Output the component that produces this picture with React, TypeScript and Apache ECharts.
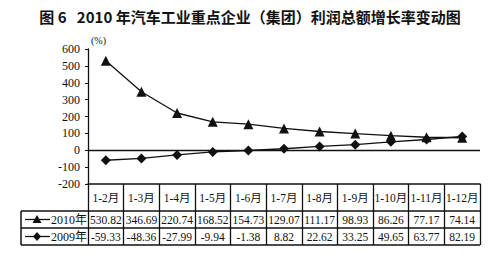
import React, { useEffect, useRef } from "react";
import * as echarts from "echarts";

const categories = ["1-2月", "1-3月", "1-4月", "1-5月", "1-6月", "1-7月", "1-8月", "1-9月", "1-10月", "1-11月", "1-12月"];
const growth2010 = [530.82, 346.69, 220.74, 168.52, 154.73, 129.07, 111.17, 98.93, 86.26, 77.17, 74.14];
const growth2009 = [-59.33, -48.36, -27.99, -9.94, -1.38, 8.82, 22.62, 33.25, 49.65, 63.77, 82.19];
const seriesNames = ["2010年", "2009年"];
const yTicks = { min: -200, max: 600, interval: 100 };
const titleText = "图 6   2010 年汽车工业重点企业（集团）利润总额增长率变动图";
const unitText = "(%)";

const SERIF = "'Liberation Serif', 'Noto Sans CJK SC', serif";
const INK = "#111";

export default function App() {
  const ref = useRef<HTMLDivElement>(null);
  useEffect(() => {
    if (!ref.current) return;
    const chart = echarts.init(ref.current, null, { renderer: "svg" });
    const L = 88, R = 480, T = 49, B = 184;
    const rowH = [27, 17, 17];
    const y1 = B + rowH[0], y2 = y1 + rowH[1], y3 = y2 + rowH[2];
    const tableLeft = 21;
    const fmt = (v: number) => v.toFixed(2);
    const legendCell = (cy: number, kind: "tri" | "dia", label: string) => {
      const sx = 37;
      const pts = kind === "tri"
        ? [[sx, cy - 4.5], [sx + 4.5, cy + 3.5], [sx - 4.5, cy + 3.5]]
        : [[sx, cy - 4.5], [sx + 4, cy], [sx, cy + 4.5], [sx - 4, cy]];
      return [
        { type: "line", shape: { x1: 25, y1: cy, x2: 50, y2: cy }, style: { stroke: INK, lineWidth: 1.3 } },
        { type: "polygon", shape: { points: pts }, style: { fill: INK } },
        { type: "text", x: 51, y: cy, style: { text: label, font: `12px ${SERIF}`, fill: INK, textVerticalAlign: "middle" } },
      ];
    };
    chart.setOption({
      animation: false,
      backgroundColor: "#fff",
      title: {
        text: titleText,
        left: "center",
        top: 4,
        textStyle: { fontSize: 15, fontWeight: "bold", color: INK, fontFamily: "'Noto Sans CJK SC', sans-serif" },
      },
      grid: { left: L, right: 500 - R, top: T, bottom: 261 - B },
      xAxis: [
        {
          type: "category",
          data: categories,
          position: "bottom",
          boundaryGap: true,
          axisLine: { show: true, onZero: false, lineStyle: { color: INK, width: 1.5 } },
          axisTick: { show: true, length: y3 - B, lineStyle: { color: INK, width: 1.3 } },
          axisLabel: { interval: 0, margin: 8, fontSize: 11.5, color: INK, fontFamily: SERIF },
        },
        {
          type: "category",
          data: categories,
          position: "bottom",
          offset: rowH[0],
          axisLine: { show: false },
          axisTick: { show: false },
          axisLabel: { interval: 0, margin: 3, fontSize: 11.5, color: INK, fontFamily: SERIF, formatter: (_v: string, i: number) => fmt(growth2010[i]) },
        },
        {
          type: "category",
          data: categories,
          position: "bottom",
          offset: rowH[0] + rowH[1],
          axisLine: { show: false },
          axisTick: { show: false },
          axisLabel: { interval: 0, margin: 3, fontSize: 11.5, color: INK, fontFamily: SERIF, formatter: (_v: string, i: number) => fmt(growth2009[i]) },
        },
      ],
      yAxis: {
        type: "value",
        min: yTicks.min,
        max: yTicks.max,
        interval: yTicks.interval,
        axisLine: { show: true, lineStyle: { color: INK, width: 1.3 } },
        axisTick: { show: true, length: 3, lineStyle: { color: INK } },
        splitLine: { show: false },
        axisLabel: { margin: 8, fontSize: 12, color: INK, fontFamily: SERIF },
      },
      series: [
        {
          name: seriesNames[0],
          type: "line",
          data: growth2010,
          symbol: "triangle",
          symbolSize: 10,
          lineStyle: { color: INK, width: 1.3 },
          itemStyle: { color: INK },
          markLine: {
            silent: true,
            symbol: "none",
            label: { show: false },
            lineStyle: { color: INK, width: 1.3, type: "solid" },
            data: [{ yAxis: 0 }],
          },
        },
        {
          name: seriesNames[1],
          type: "line",
          data: growth2009,
          symbol: "diamond",
          symbolSize: 10,
          lineStyle: { color: INK, width: 1.3 },
          itemStyle: { color: INK },
        },
      ],
      graphic: [
        { type: "text", x: 91, y: 35, style: { text: unitText, font: `10px ${SERIF}`, fill: INK } },
        { type: "line", shape: { x1: tableLeft, y1: y1, x2: R, y2: y1 }, style: { stroke: INK, lineWidth: 1.5 } },
        { type: "line", shape: { x1: tableLeft, y1: y2, x2: R, y2: y2 }, style: { stroke: INK, lineWidth: 1.5 } },
        { type: "line", shape: { x1: tableLeft, y1: y3, x2: R, y2: y3 }, style: { stroke: INK, lineWidth: 1.5 } },
        { type: "line", shape: { x1: tableLeft, y1: y1, x2: tableLeft, y2: y3 }, style: { stroke: INK, lineWidth: 1.5 } },
        ...legendCell((y1 + y2) / 2, "tri", seriesNames[0]),
        ...legendCell((y2 + y3) / 2, "dia", seriesNames[1]),
      ],
    });
    return () => chart.dispose();
  }, []);
  return <div ref={ref} style={{ position: "fixed", left: 0, top: 0, width: 500, height: 261, background: "#fff" }} />;
}
